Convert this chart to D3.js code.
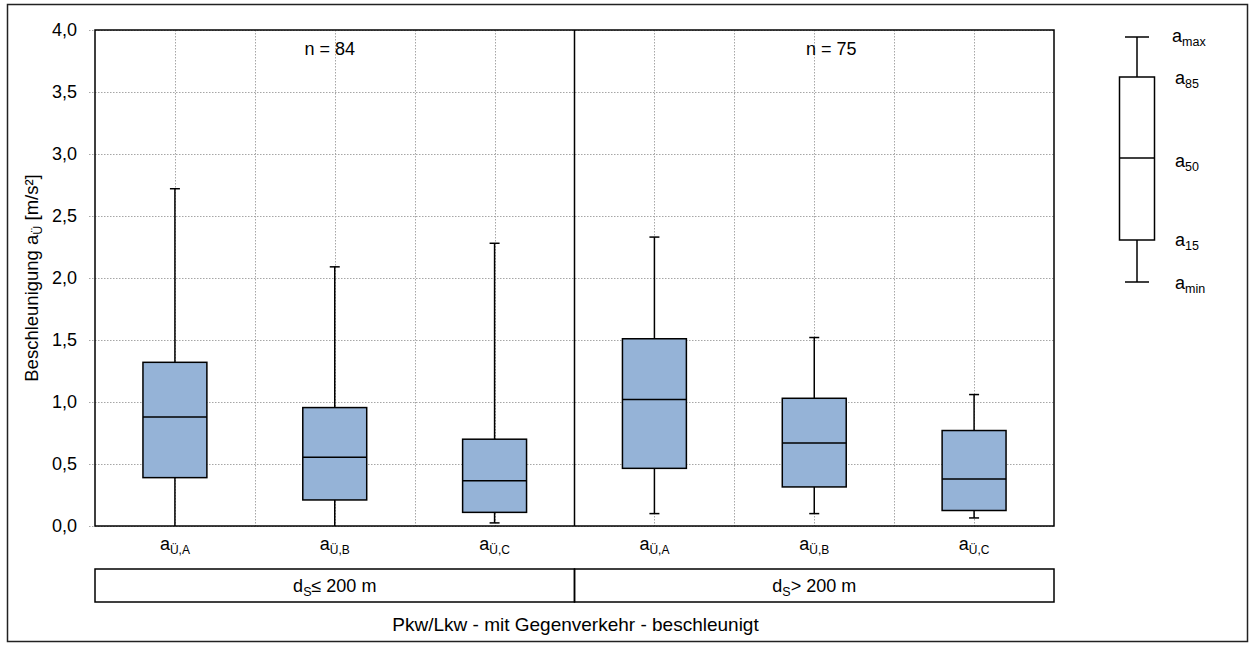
<!DOCTYPE html>
<html>
<head>
<meta charset="utf-8">
<script src="https://cdn.jsdelivr.net/npm/d3@7"></script>
<style>
  html, body { margin: 0; padding: 0; background: #fff; }
  svg { display: block; font-family: "Liberation Sans", Arial, sans-serif; }
</style>
</head>
<body>
<svg id="chart" width="1250" height="650"></svg>
<script>
// ---- data ----
const categories = ["Ü,A", "Ü,B", "Ü,C", "Ü,A", "Ü,B", "Ü,C"];
const groupLabels = [["S", "≤ 200 m"], ["S", "> 200 m"]];
const groupSizes = [3, 3];
const nLabels = ["n = 84", "n = 75"];
const aMax = [2.72, 2.09, 2.28, 2.33, 1.52, 1.06];
const a85  = [1.32, 0.955, 0.70, 1.51, 1.03, 0.77];
const a50  = [0.88, 0.555, 0.365, 1.02, 0.67, 0.38];
const a15  = [0.39, 0.21, 0.11, 0.465, 0.315, 0.125];
const aMin = [0.0, 0.0, 0.025, 0.10, 0.10, 0.065];
const yTicks = [0, 0.5, 1.0, 1.5, 2.0, 2.5, 3.0, 3.5, 4.0];
const legendKeys = ["max", "85", "50", "15", "min"];
const yTitle = ["Beschleunigung a", "Ü", " [m/s²]"];
const xTitle = "Pkw/Lkw - mit Gegenverkehr - beschleunigt";

// ---- layout ----
const svg = d3.select("#chart");
const L = 95, R = 1054, T = 30, B = 526;
const fill = "#95B3D7";
const grid = "#a6a6a6";

svg.append("rect").attr("x", 0).attr("y", 0).attr("width", 1250).attr("height", 650).attr("fill", "#fff");
svg.append("rect").attr("x", 7.5).attr("y", 4.5).attr("width", 1240).attr("height", 637)
  .attr("fill", "none").attr("stroke", "#222").attr("stroke-width", 1.5);

const x = d3.scaleBand().domain(d3.range(categories.length)).range([L, R]).paddingInner(0).paddingOuter(0);
const y = d3.scaleLinear().domain([0, 4]).range([B, T]);
const bw = x.bandwidth();
const boxW = bw * 0.4;
const capW = 10;

// horizontal grid + dotted ticks
const yAxis = d3.axisLeft(y).tickValues(yTicks).tickSize(0).tickPadding(18)
  .tickFormat(d => d3.format(".1f")(d).replace(".", ","));
const gy = svg.append("g").attr("transform", `translate(${L},0)`).call(yAxis);
gy.select(".domain").remove();
gy.selectAll("text").attr("font-size", 18).attr("fill", "#000")
  .attr("font-family", "Liberation Sans, Arial, sans-serif");

svg.append("g").selectAll("line").data(yTicks).join("line")
  .attr("x1", L - 6).attr("x2", R)
  .attr("y1", d => Math.round(y(d)) + 0.5).attr("y2", d => Math.round(y(d)) + 0.5)
  .attr("stroke", grid).attr("stroke-width", 1).attr("stroke-dasharray", "1.5,1.5");

// vertical grid lines (centers + boundaries)
const vLines = [];
categories.forEach((c, i) => {
  vLines.push(x(i) + bw / 2);
  if (i > 0 && i !== groupSizes[0]) vLines.push(x(i));
});
svg.append("g").selectAll("line").data(vLines).join("line")
  .attr("x1", d => Math.round(d) + 0.5).attr("x2", d => Math.round(d) + 0.5)
  .attr("y1", T).attr("y2", B)
  .attr("stroke", grid).attr("stroke-width", 1).attr("stroke-dasharray", "1.5,1.5");

// plot frame
svg.append("rect").attr("x", L).attr("y", T).attr("width", R - L).attr("height", B - T)
  .attr("fill", "none").attr("stroke", "#000").attr("stroke-width", 1.5);
// group divider
const divX = x(groupSizes[0]);
svg.append("line").attr("x1", divX).attr("x2", divX).attr("y1", T).attr("y2", B)
  .attr("stroke", "#000").attr("stroke-width", 1.5);

// n labels
const nOffset = [-5, 17];
nLabels.forEach((t, g) => {
  const cx = x(g * groupSizes[0] + 1) + bw / 2 + nOffset[g];
  svg.append("text").attr("x", cx).attr("y", 55).attr("text-anchor", "middle")
    .attr("font-size", 18).text(t);
});

// boxes
const bg = svg.append("g");
categories.forEach((c, i) => {
  const cx = x(i) + bw / 2;
  const g = bg.append("g");
  g.append("line").attr("x1", cx).attr("x2", cx).attr("y1", y(aMax[i])).attr("y2", y(a85[i]))
    .attr("stroke", "#000").attr("stroke-width", 1.5);
  g.append("line").attr("x1", cx).attr("x2", cx).attr("y1", y(a15[i])).attr("y2", y(aMin[i]))
    .attr("stroke", "#000").attr("stroke-width", 1.5);
  g.append("line").attr("x1", cx - capW / 2).attr("x2", cx + capW / 2).attr("y1", y(aMax[i])).attr("y2", y(aMax[i]))
    .attr("stroke", "#000").attr("stroke-width", 1.5);
  if (aMin[i] > 0) {
    g.append("line").attr("x1", cx - capW / 2).attr("x2", cx + capW / 2).attr("y1", y(aMin[i])).attr("y2", y(aMin[i]))
      .attr("stroke", "#000").attr("stroke-width", 1.5);
  }
  g.append("rect").attr("x", cx - boxW / 2).attr("y", y(a85[i])).attr("width", boxW)
    .attr("height", y(a15[i]) - y(a85[i])).attr("fill", fill).attr("stroke", "#000").attr("stroke-width", 1.5);
  g.append("line").attr("x1", cx - boxW / 2).attr("x2", cx + boxW / 2).attr("y1", y(a50[i])).attr("y2", y(a50[i]))
    .attr("stroke", "#000").attr("stroke-width", 1.5);
});

// x category labels
categories.forEach((c, i) => {
  const t = svg.append("text").attr("x", x(i) + bw / 2).attr("y", 550).attr("text-anchor", "middle")
    .attr("font-size", 18);
  t.append("tspan").text("a");
  t.append("tspan").attr("font-size", 12).attr("dy", 4).text(c);
});

// group boxes
let start = 0;
groupLabels.forEach((gl, g) => {
  const x0 = x(start), x1 = (start + groupSizes[g] < categories.length) ? x(start + groupSizes[g]) : R;
  svg.append("rect").attr("x", x0).attr("y", 569).attr("width", x1 - x0).attr("height", 33)
    .attr("fill", "none").attr("stroke", "#000").attr("stroke-width", 1.5);
  const t = svg.append("text").attr("x", (x0 + x1) / 2).attr("y", 592).attr("text-anchor", "middle")
    .attr("font-size", 18);
  t.append("tspan").text("d");
  t.append("tspan").attr("font-size", 12.5).attr("dy", 4).text(gl[0]);
  t.append("tspan").attr("dy", -4).text(gl[1]);
  start += groupSizes[g];
});

// x title
svg.append("text").attr("x", (L + R) / 2 + 1).attr("y", 631).attr("text-anchor", "middle")
  .attr("font-size", 19).text(xTitle);

// y title
const yt = svg.append("text").attr("transform", `translate(38,278) rotate(-90)`)
  .attr("text-anchor", "middle").attr("font-size", 18.5);
yt.append("tspan").text(yTitle[0]);
yt.append("tspan").attr("font-size", 12.5).attr("dy", 4).text(yTitle[1]);
yt.append("tspan").attr("dy", -4).text(yTitle[2]);

// legend
const lg = svg.append("g");
const lx = 1137, lyMax = 37, ly85 = 77, ly50 = 158, ly15 = 240, lyMin = 282, lbw = 35;
lg.append("line").attr("x1", lx).attr("x2", lx).attr("y1", lyMax).attr("y2", ly85).attr("stroke", "#000").attr("stroke-width", 1.5);
lg.append("line").attr("x1", lx).attr("x2", lx).attr("y1", ly15).attr("y2", lyMin).attr("stroke", "#000").attr("stroke-width", 1.5);
lg.append("line").attr("x1", lx - 12).attr("x2", lx + 12).attr("y1", lyMax).attr("y2", lyMax).attr("stroke", "#000").attr("stroke-width", 1.5);
lg.append("line").attr("x1", lx - 12).attr("x2", lx + 12).attr("y1", lyMin).attr("y2", lyMin).attr("stroke", "#000").attr("stroke-width", 1.5);
lg.append("rect").attr("x", lx - lbw / 2).attr("y", ly85).attr("width", lbw).attr("height", ly15 - ly85)
  .attr("fill", "#fff").attr("stroke", "#000").attr("stroke-width", 1.5);
lg.append("line").attr("x1", lx - lbw / 2).attr("x2", lx + lbw / 2).attr("y1", ly50).attr("y2", ly50).attr("stroke", "#000").attr("stroke-width", 1.5);
const legY = [42, 84, 167, 246, 289];
const legX = [1172, 1175, 1175, 1175, 1175];
legendKeys.forEach((k, i) => {
  const t = lg.append("text").attr("x", legX[i]).attr("y", legY[i]).attr("font-size", 18);
  t.append("tspan").text("a");
  t.append("tspan").attr("font-size", 12.5).attr("dy", 4).text(k);
});
</script>
</body>
</html>
